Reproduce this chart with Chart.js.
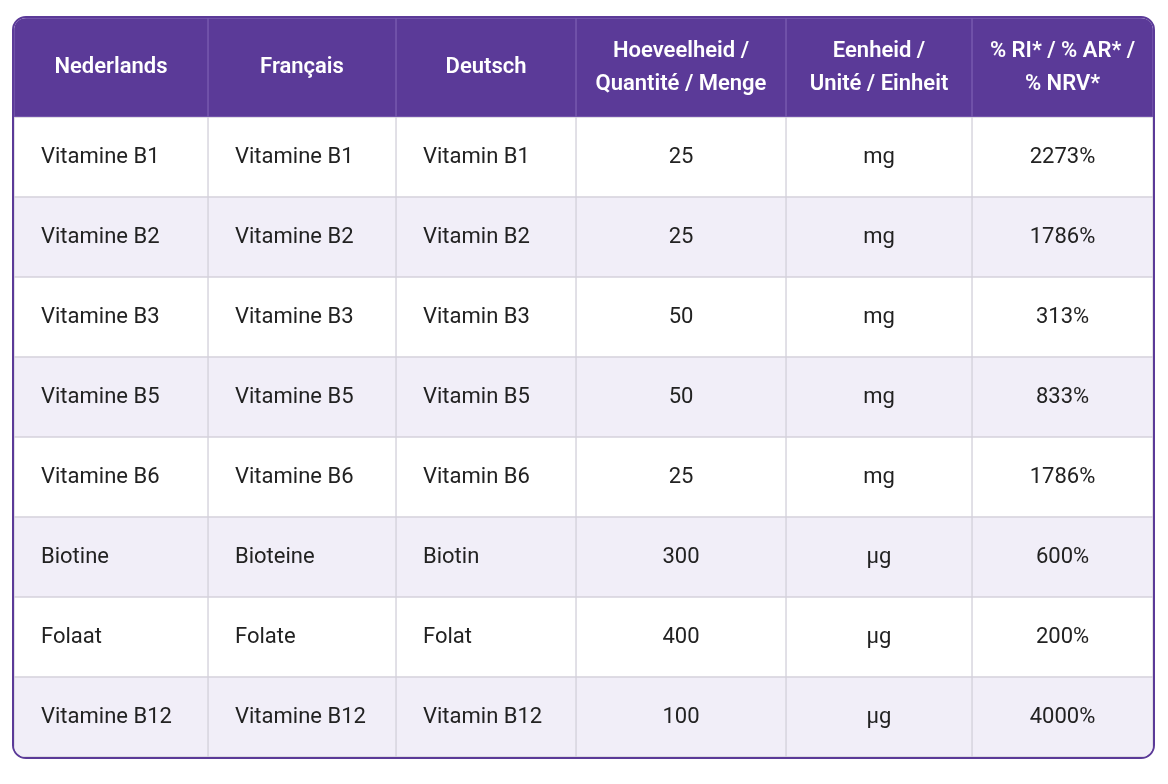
<!DOCTYPE html>
<html><head><meta charset="utf-8">
<script src="https://cdn.jsdelivr.net/npm/chart.js@4"></script>
<style>
html,body{margin:0;background:#fff;width:1168px;height:784px;overflow:hidden}
#box{position:absolute;left:12px;top:16px;width:1139px;height:739px;border:2px solid #5b3a98;border-radius:14px;overflow:hidden;background:#fff}
#h{position:relative;width:1139px;height:99px}
#b{position:relative;width:1139px;height:640px}
</style></head><body>
<div id="box"><div id="h"><canvas id="ch"></canvas></div><div id="b"><canvas id="cb"></canvas></div></div>
<script>
const headers = [["Nederlands"],["Français"],["Deutsch"],["Hoeveelheid /","Quantité / Menge"],["Eenheid /","Unité / Einheit"],["% RI* / % AR* /","% NRV*"]];
const nl = ["Vitamine B1","Vitamine B2","Vitamine B3","Vitamine B5","Vitamine B6","Biotine","Folaat","Vitamine B12"];
const fr = ["Vitamine B1","Vitamine B2","Vitamine B3","Vitamine B5","Vitamine B6","Bioteine","Folate","Vitamine B12"];
const de = ["Vitamin B1","Vitamin B2","Vitamin B3","Vitamin B5","Vitamin B6","Biotin","Folat","Vitamin B12"];
const amounts = [25,25,50,50,25,300,400,100];
const units = ["mg","mg","mg","mg","mg","µg","µg","µg"];
const percents = ["2273%","1786%","313%","833%","1786%","600%","200%","4000%"];
const colWidths = [194,188,180,210,186,181];
const FONT = '"Roboto", "Liberation Sans", sans-serif';

function makeTable(id, rows, header){
  const cols = rows[0].length;
  const labels = rows.map((_,i)=>String(i));
  const datasets = colWidths.map((w,c)=>({
    data: rows.map(()=>w),
    backgroundColor: ctx => header ? '#5b3a98' : (ctx.dataIndex%2 ? '#f1eef8' : '#ffffff'),
    borderColor: header ? '#7a5cb0' : '#d4d2dc',
    borderWidth: 1, borderSkipped: false,
    barPercentage: 1, categoryPercentage: 1
  }));
  const textPlugin = {id:'txt', afterDatasetsDraw(chart){
    const g = chart.ctx;
    chart.data.datasets.forEach((ds,c)=>{
      chart.getDatasetMeta(c).data.forEach((el,r)=>{
        const cell = rows[r][c];
        const lines = Array.isArray(cell) ? cell : [String(cell)];
        g.save();
        g.fillStyle = header ? '#ffffff' : '#222222';
        g.font = (header ? '600 ' : '400 ') + '22px ' + FONT;
        g.textBaseline = 'middle';
        const left = Math.min(el.x, el.base), right = Math.max(el.x, el.base);
        let tx, align;
        if (!header && c < 3) { align='left'; tx = left + 27; }
        else { align='center'; tx = (left+right)/2; }
        g.textAlign = align;
        const lh = 33;
        lines.forEach((ln,k)=> g.fillText(ln, tx, el.y + (k-(lines.length-1)/2)*lh));
        g.restore();
      });
    });
  }};
  new Chart(document.getElementById(id), {
    type:'bar',
    data:{labels, datasets},
    options:{indexAxis:'y', responsive:true, maintainAspectRatio:false, animation:false,
      layout:{padding:0},
      plugins:{legend:{display:false}, tooltip:{enabled:false}},
      scales:{
        x:{stacked:true, display:false, min:0, max:colWidths.reduce((a,b)=>a+b,0)},
        y:{stacked:true, display:false}
      }},
    plugins:[textPlugin]
  });
}
makeTable('ch', [headers], true);
makeTable('cb', nl.map((n,i)=>[n, fr[i], de[i], amounts[i], units[i], percents[i]]), false);
</script></body></html>
